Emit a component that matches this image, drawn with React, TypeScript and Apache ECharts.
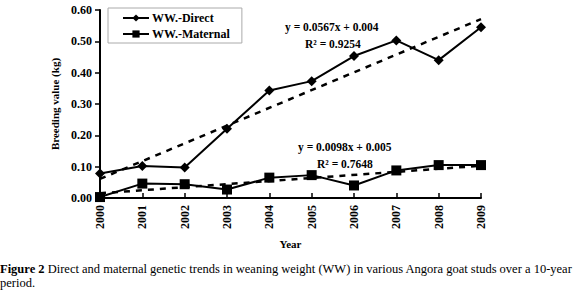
import React, { useEffect, useRef } from "react";
import * as echarts from "echarts";

const years = ["2000", "2001", "2002", "2003", "2004", "2005", "2006", "2007", "2008", "2009"];
const directValues = [0.078, 0.102, 0.097, 0.221, 0.343, 0.373, 0.453, 0.503, 0.44, 0.545];
const maternalValues = [0.003, 0.046, 0.044, 0.027, 0.065, 0.073, 0.04, 0.088, 0.105, 0.105];
// trend lines: endpoint values (first and last year)
const directTrend = [0.061, null, null, null, null, null, null, null, null, 0.571];
const maternalTrend = [0.015, null, null, null, null, null, null, null, null, 0.103];
const seriesNames = ["WW.-Direct", "WW.-Maternal"];
const directEq = ["y = 0.0567x + 0.004", "R² = 0.9254"];
const maternalEq = ["y = 0.0098x + 0.005", "R² = 0.7648"];
const yTitle = "Breeding value (kg)";
const xTitle = "Year";
const captionBold = "Figure 2";
const captionLine1 = " Direct and maternal genetic trends in weaning weight (WW) in various Angora goat studs over a 10-year";
const captionLine2 = "period.";

const SERIF = "'Liberation Serif', 'Times New Roman', serif";

export default function App() {
  const ref = useRef<HTMLDivElement>(null);
  useEffect(() => {
    if (!ref.current) return;
    const chart = echarts.init(ref.current, null, { renderer: "svg" });
    const boldText = { fontFamily: SERIF, fontWeight: "bold", color: "#000" };
    chart.setOption({
      animation: false,
      backgroundColor: "#fff",
      textStyle: { fontFamily: SERIF },
      grid: { left: 100, right: 99, top: 10, bottom: 95, containLabel: false },
      legend: {
        data: seriesNames,
        orient: "vertical",
        left: 108,
        top: 8,
        padding: [4, 12, 3, 14],
        itemGap: 4,
        itemWidth: 26,
        itemHeight: 9,
        borderColor: "#aaa",
        borderWidth: 1,
        textStyle: { ...boldText, fontSize: 12, padding: [0, 0, 0, -2] },
      },
      xAxis: {
        type: "category",
        data: years,
        boundaryGap: false,
        axisLine: { lineStyle: { color: "#000", width: 2 } },
        axisTick: { inside: true, length: 5, lineStyle: { color: "#000", width: 1.5 } },
        axisLabel: { ...boldText, fontSize: 12, rotate: 90, margin: 7 },
        name: xTitle,
        nameLocation: "middle",
        nameGap: 40,
        nameTextStyle: { ...boldText, fontSize: 11 },
      },
      yAxis: {
        type: "value",
        min: 0,
        max: 0.6,
        interval: 0.1,
        splitLine: { show: false },
        axisLine: { show: true, lineStyle: { color: "#000", width: 2 } },
        axisTick: { show: true, length: 5, lineStyle: { color: "#000", width: 1.5 } },
        axisLabel: { ...boldText, fontSize: 12, margin: 8, formatter: (v: number) => v.toFixed(2) },
        name: yTitle,
        nameLocation: "middle",
        nameGap: 35,
        nameTextStyle: { ...boldText, fontSize: 11 },
      },
      series: [
        {
          name: seriesNames[0],
          type: "line",
          data: directValues,
          symbol: "diamond",
          symbolSize: 10,
          itemStyle: { color: "#000" },
          lineStyle: { color: "#000", width: 2 },
          z: 3,
        },
        {
          name: seriesNames[1],
          type: "line",
          data: maternalValues,
          symbol: "rect",
          symbolSize: 10,
          itemStyle: { color: "#000" },
          lineStyle: { color: "#000", width: 2 },
          z: 3,
        },
        {
          name: "trendDirect",
          type: "line",
          data: directTrend,
          connectNulls: true,
          showSymbol: false,
          symbol: "none",
          lineStyle: { color: "#000", width: 2.5, type: [6, 6] },
          z: 2,
        },
        {
          name: "trendMaternal",
          type: "line",
          data: maternalTrend,
          connectNulls: true,
          showSymbol: false,
          symbol: "none",
          lineStyle: { color: "#000", width: 2.5, type: [6, 6] },
          z: 2,
        },
      ],
      graphic: [
        { type: "text", left: 285, top: 21, style: { text: directEq[0], font: `bold 11.5px ${SERIF}`, fill: "#000" } },
        { type: "text", left: 305, top: 38, style: { text: directEq[1], font: `bold 11.5px ${SERIF}`, fill: "#000" } },
        { type: "text", left: 298, top: 141, style: { text: maternalEq[0], font: `bold 11.5px ${SERIF}`, fill: "#000" } },
        { type: "text", left: 317, top: 158, style: { text: maternalEq[1], font: `bold 11.5px ${SERIF}`, fill: "#000" } },
        {
          type: "text",
          left: 0,
          top: 262,
          style: {
            text: `{b|${captionBold}}{n|${captionLine1}}\n{n|${captionLine2}}`,
            fill: "#000",
            rich: {
              b: { fontFamily: SERIF, fontWeight: "bold", fontSize: 12.5, lineHeight: 14, fill: "#000" },
              n: { fontFamily: SERIF, fontSize: 12.5, lineHeight: 14, fill: "#000" },
            },
          },
        },
      ],
    });
    return () => chart.dispose();
  }, []);
  return <div ref={ref} style={{ position: "fixed", left: 0, top: 0, width: 580, height: 293 }} />;
}
